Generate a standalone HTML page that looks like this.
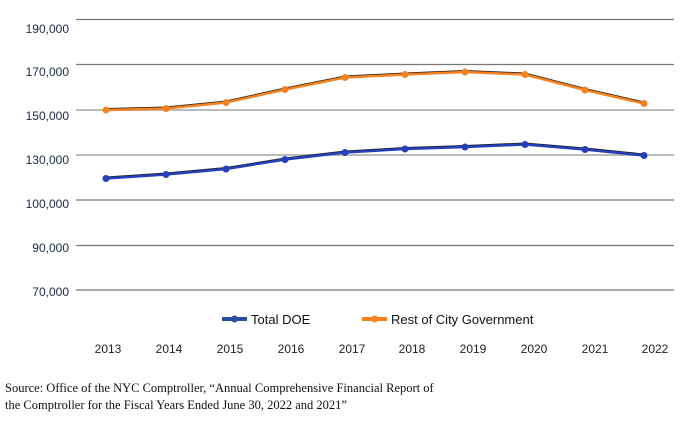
<!DOCTYPE html>
<html><head><style>
body{margin:0;background:#fff;width:680px;height:435px;overflow:hidden}
</style></head><body>
<svg width="680" height="435" xmlns="http://www.w3.org/2000/svg" font-family="Liberation Sans, sans-serif">
<g stroke="#777" stroke-width="1.2">
<line x1="76" x2="674" y1="19.5" y2="19.5"/>
<line x1="76" x2="674" y1="64.5" y2="64.5"/>
<line x1="76" x2="674" y1="110" y2="110" stroke="#bbb" stroke-width="2"/>
<line x1="76" x2="674" y1="155" y2="155" stroke="#bbb" stroke-width="2"/>
<line x1="76" x2="674" y1="200" y2="200"/>
<line x1="76" x2="674" y1="245.5" y2="245.5"/>
<line x1="76" x2="674" y1="290" y2="290"/>
</g>
<g font-size="12" fill="#1a2a4a" text-anchor="end">
<text x="69" y="33">190,000</text>
<text x="69" y="76">170,000</text>
<text x="69" y="120">150,000</text>
<text x="69" y="164">130,000</text>
<text x="69" y="208">100,000</text>
<text x="69" y="252">90,000</text>
<text x="69" y="296">70,000</text>
</g>
<g font-size="12" fill="#222" text-anchor="middle">
<text x="108" y="353">2013</text><text x="169" y="353">2014</text><text x="230" y="353">2015</text><text x="291" y="353">2016</text><text x="352" y="353">2017</text><text x="412" y="353">2018</text><text x="473" y="353">2019</text><text x="534" y="353">2020</text><text x="595" y="353">2021</text><text x="655" y="353">2022</text>
</g>
<polyline fill="none" stroke="#222" stroke-width="2" points="106,109 166,107.5 226,101.5 285,88.5 345,76.5 405,73.5 465,71 525,73.5 585,89 644,102.5"/>
<polyline fill="none" stroke="#f5821f" stroke-width="2.5" points="106,110 166,108.5 226,102.5 285,89.5 345,77.5 405,74.5 465,72 525,74.5 585,90 644,103.5"/>
<g fill="#f5821f"><circle cx="106" cy="110" r="3.5"/><circle cx="166" cy="108.5" r="3.5"/><circle cx="226" cy="102.5" r="3.5"/><circle cx="285" cy="89.5" r="3.5"/><circle cx="345" cy="77.5" r="3.5"/><circle cx="405" cy="74.5" r="3.5"/><circle cx="465" cy="72" r="3.5"/><circle cx="525" cy="74.5" r="3.5"/><circle cx="585" cy="90" r="3.5"/><circle cx="644" cy="103.5" r="3.5"/></g>
<polyline fill="none" stroke="#222" stroke-width="2" points="106,177.5 166,173.5 226,168 285,158.5 345,151.5 405,148 465,146 525,143.5 585,148.5 644,154.5"/>
<polyline fill="none" stroke="#2540b8" stroke-width="2.5" points="106,178.5 166,174.5 226,169 285,159.5 345,152.5 405,149 465,147 525,144.5 585,149.5 644,155.5"/>
<g fill="#2540b8"><circle cx="106" cy="178.5" r="3.5"/><circle cx="166" cy="174.5" r="3.5"/><circle cx="226" cy="169" r="3.5"/><circle cx="285" cy="159.5" r="3.5"/><circle cx="345" cy="152.5" r="3.5"/><circle cx="405" cy="149" r="3.5"/><circle cx="465" cy="147" r="3.5"/><circle cx="525" cy="144.5" r="3.5"/><circle cx="585" cy="149.5" r="3.5"/><circle cx="644" cy="155.5" r="3.5"/></g>
<line x1="222" x2="247" y1="319" y2="319" stroke="#2a4fa0" stroke-width="4"/><circle cx="234.5" cy="319" r="3.5" fill="#2a4fa0"/>
<text x="251" y="324" font-size="13" fill="#111">Total DOE</text>
<line x1="362" x2="387" y1="319" y2="319" stroke="#f5821f" stroke-width="4"/><circle cx="374.5" cy="319" r="3.5" fill="#f5821f"/>
<text x="391" y="324" font-size="13" fill="#111">Rest of City Government</text>
<g font-family="Liberation Serif, serif" font-size="12.5" fill="#111">
<text x="5" y="392">Source: Office of the NYC Comptroller, “Annual Comprehensive Financial Report of</text>
<text x="5" y="409">the Comptroller for the Fiscal Years Ended June 30, 2022 and 2021”</text>
</g>
</svg>
</body></html>
